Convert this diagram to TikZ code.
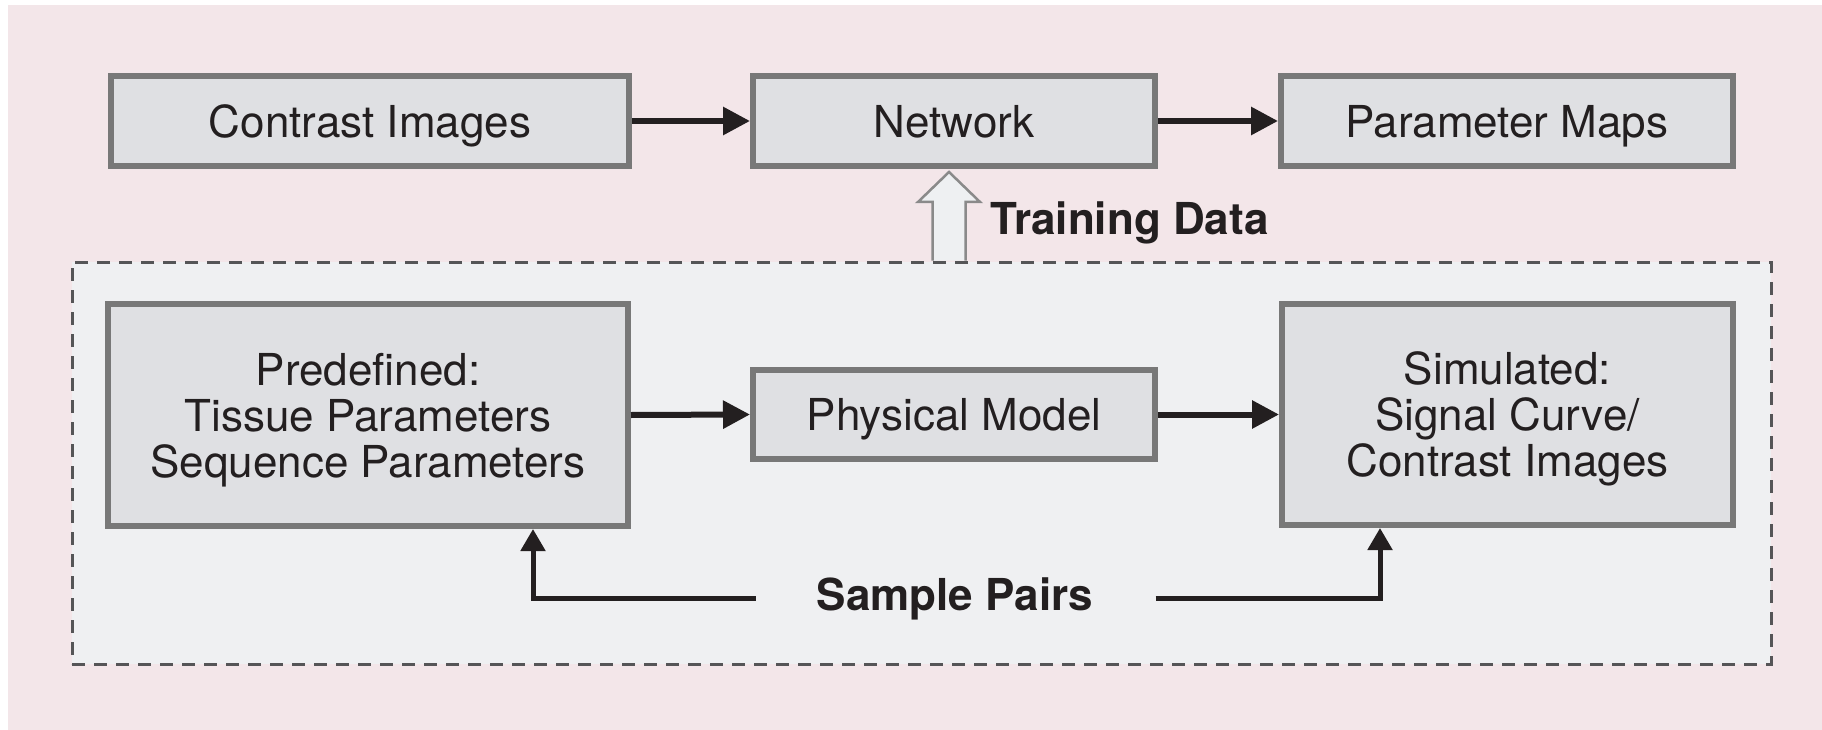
\documentclass[tikz,border=0pt]{standalone}
\usepackage{fontspec}
\setmainfont{TeX Gyre Heros}
\usetikzlibrary{arrows.meta,calc}

\definecolor{pagepink}{HTML}{F3E6E9}
\definecolor{poolfill}{HTML}{EFF0F2}
\definecolor{poolline}{HTML}{555557}
\definecolor{boxfill}{HTML}{DFE0E3}
\definecolor{boxedge}{HTML}{787878}
\definecolor{ink}{HTML}{231F20}
\definecolor{hollowfill}{HTML}{EEF0F2}
\definecolor{hollowedge}{HTML}{8A8A8A}

\begin{document}
\begin{tikzpicture}[x=1pt,y=-1pt,
  stepbox/.style={draw=boxedge, fill=boxfill, line width=6pt, inner sep=0pt,
    align=center, text=ink, text depth=0pt,
    font=\fontsize{44}{46}\selectfont},
  flow/.style={draw=ink, line width=6pt, -{Triangle[length=27pt,width=27pt]}},
  feed/.style={draw=ink, line width=5pt, -{Triangle[length=22pt,width=24pt]}},
  boldlabel/.style={inner sep=0pt, text=ink, font=\bfseries\fontsize{44}{46}\selectfont},
  hollow/.style={draw=hollowedge, fill=hollowfill, line width=2.5pt, line join=miter}]

\useasboundingbox (0,0) rectangle (1822,730);
\fill[white] (0,0) rectangle (1822,730);
\fill[pagepink] (8,5) rectangle (1822,730);

% dashed frame holding the training-data generation
\node[draw=poolline, fill=poolfill, line width=3pt, dash pattern=on 13pt off 9pt,
      minimum width=1699pt, minimum height=402pt, inner sep=0pt] (pool) at (921.5,463) {};

% inference row
\node[stepbox, minimum width=518pt, minimum height=90pt] (contrast) at (370,121) {Contrast Images};
\node[stepbox, minimum width=402pt, minimum height=90pt] (net) at (954,121) {Network};
\node[stepbox, minimum width=452pt, minimum height=90pt] (maps) at (1507,121) {Parameter Maps};

\draw[flow] (contrast.east) -- (net.west);
\draw[flow] (net.east) -- (maps.west);

% simulation row
\node[stepbox, minimum width=520pt, minimum height=222pt] (pre) at (368,415)
  {Predefined:\\Tissue Parameters\\Sequence Parameters};
\node[stepbox, minimum width=402pt, minimum height=89pt] (phys) at (954,414.5) {Physical Model};
\node[stepbox, minimum width=451pt, minimum height=221pt] (sim) at (1507.5,414.5)
  {Simulated:\\Signal Curve/\\Contrast Images};

\draw[flow] (pre.east) -- (phys.west);
\draw[flow] (phys.east) -- (sim.west);

% sample pairs feeding both ends
\node[boldlabel, anchor=base] (pairs) at (955,610) {Sample Pairs};
\draw[feed] ([xshift=-61pt]pairs.west) -| ([xshift=165pt]pre.south);
\draw[feed] ([xshift=62pt]pairs.east) -| ([xshift=-127.5pt]sim.south);

% hollow arrow carrying the training data up to the network
\coordinate (tdtip) at ([xshift=-5pt,yshift=-3pt]net.south);
\coordinate (tdbase) at (tdtip |- pool.north);
\filldraw[hollow] ($(tdbase)+(-16.5,0)$) -- ($(tdtip)+(-16.5,30)$) -- ($(tdtip)+(-31,30)$)
  -- (tdtip) -- ($(tdtip)+(31,30)$) -- ($(tdtip)+(16.5,30)$) -- ($(tdbase)+(16.5,0)$);
\node[boldlabel, anchor=base west] (td) at (990,234) {Training Data};

\end{tikzpicture}
\end{document}
